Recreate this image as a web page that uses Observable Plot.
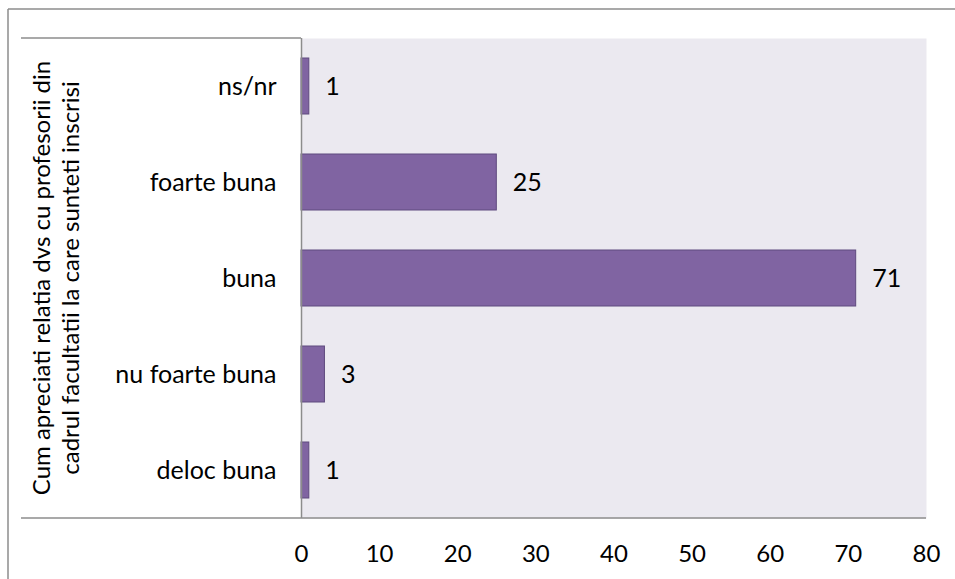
<!DOCTYPE html>
<html>
<head>
<meta charset="utf-8">
<script src="https://cdn.jsdelivr.net/npm/d3@7"></script>
<script src="https://cdn.jsdelivr.net/npm/@observablehq/plot@0.6"></script>
<style>
  html, body { margin: 0; padding: 0; background: #fff; }
  #chart { position: relative; width: 955px; height: 579px; }
  svg { font-family: Lato, "Open Sans", sans-serif; }
</style>
</head>
<body>
<div id="chart"></div>
<script>
const categories = ["ns/nr", "foarte buna", "buna", "nu foarte buna", "deloc buna"];
const values = [1, 25, 71, 3, 1];
const xTicks = [0, 10, 20, 30, 40, 50, 60, 70, 80];
const yTitleLines = ["Cum apreciati relatia dvs cu profesorii din", "cadrul facultatii la care sunteti inscrisi"];

const data = categories.map((c, i) => ({category: c, value: values[i]}));

const W = 955, H = 579;
const mL = 301, mR = 29, mT = 38, mB = 61;
const FS = 24;

const plot = Plot.plot({
  width: W,
  height: H,
  marginLeft: mL,
  marginRight: mR,
  marginTop: mT,
  marginBottom: mB,
  style: {fontSize: FS + "px", fontFamily: "Lato, 'Open Sans', sans-serif", color: "#000", background: "transparent"},
  x: {domain: [0, 80], label: null},
  y: {domain: categories, paddingInner: 0.42, paddingOuter: 0.21, label: null},
  marks: [
    Plot.frame({fill: "#EBE9F0", stroke: "none"}),
    Plot.axisX({ticks: xTicks, tickSize: 0, tickPadding: 26, fontSize: 24, label: null}),
    Plot.axisY({tickSize: 0, tickPadding: 25, fontSize: 25, label: null}),
    Plot.barX(data, {x: "value", y: "category", fill: "#8064A2", stroke: "#5F4A7E", strokeWidth: 1}),
    Plot.text(data, {x: "value", y: "category", text: d => String(d.value), textAnchor: "start", dx: 16, fill: "#000", fontSize: 25}),
    Plot.ruleX([0], {stroke: "#8C8C8C", strokeWidth: 1.5})
  ]
});

document.getElementById("chart").appendChild(plot);

// decorative frame lines and y-axis title box
const svg = d3.select(plot);
const deco = svg.append("g").attr("stroke", "#8C8C8C").attr("stroke-width", 1.5).attr("fill", "none");
// outer chart border (cut off at right and bottom)
deco.append("line").attr("x1", 8).attr("y1", 9).attr("x2", W).attr("y2", 9);
deco.append("line").attr("x1", 8).attr("y1", 9).attr("x2", 8).attr("y2", H);
// title box top and bottom axis line
deco.append("line").attr("x1", 21).attr("y1", mT).attr("x2", mL).attr("y2", mT);
deco.append("line").attr("x1", 21).attr("y1", H - mB).attr("x2", W - mR).attr("y2", H - mB);

// y axis title, rotated, two lines
const cy = (mT + H - mB) / 2;
const tt = svg.append("text")
  .attr("transform", `translate(0,${cy}) rotate(-90)`)
  .attr("text-anchor", "middle")
  .attr("font-size", FS)
  .attr("fill", "#000");
yTitleLines.forEach((line, i) => {
  tt.append("tspan").attr("x", 0).attr("y", i === 0 ? 50 : 79).text(line);
});
</script>
</body>
</html>
